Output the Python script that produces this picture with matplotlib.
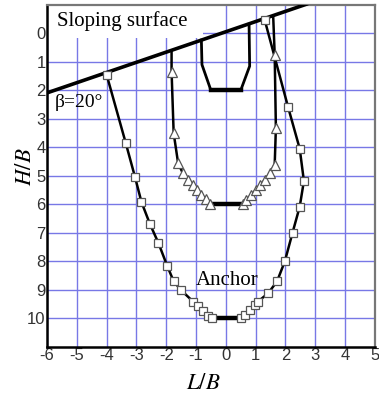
import matplotlib.pyplot as plt
from matplotlib.patches import Rectangle

plt.rcParams['mathtext.fontset'] = 'stix'
plt.rcParams['axes.unicode_minus'] = False

# failure surface traced with squares (deep anchor, H/B = 10)
sq_x = [-4.0, -3.36, -3.05, -2.83, -2.55, -2.26, -1.97, -1.75, -1.49, -1.10, -0.93, -0.76, -0.60, -0.48,
        0.50, 0.64, 0.80, 0.97, 1.08, 1.42, 1.72, 1.98, 2.24, 2.48, 2.62, 2.48, 2.09, 1.31]
sq_y = [1.45, 3.84, 5.03, 5.92, 6.68, 7.36, 8.15, 8.70, 9.02, 9.41, 9.58, 9.75, 9.90, 10.0,
        10.0, 9.88, 9.70, 9.53, 9.41, 9.12, 8.70, 8.00, 6.99, 6.08, 5.18, 4.05, 2.59, -0.45]

# failure surface traced with triangles (H/B = 6), first and last point sit on the slope
tr_x = [-1.82, -1.82, -1.75, -1.60, -1.44, -1.26, -1.10, -0.97, -0.82, -0.68, -0.54,
        0.56, 0.69, 0.86, 1.01, 1.16, 1.31, 1.48, 1.64, 1.68, 1.64, 1.59]
tr_y = [0.60, 1.34, 3.50, 4.56, 4.91, 5.14, 5.32, 5.49, 5.67, 5.82, 6.00,
        6.00, 5.84, 5.67, 5.49, 5.32, 5.14, 4.91, 4.61, 3.33, 0.75, -0.59]

# shallow anchor outline (H/B = 2)
ft_x = [-0.82, -0.80, -0.50, 0.50, 0.80, 0.78]
ft_y = [0.24, 1.10, 2.00, 2.00, 1.15, -0.32]

# anchor plates
plates = [(-0.5, 0.5, 2.0), (-0.5, 0.5, 6.0), (-0.5, 0.5, 10.0)]

slope_x = [-6.0, 2.7]
slope_y = [2.09, -1.02]

fig = plt.figure(figsize=(3.79, 4.01), dpi=100)
ax = fig.add_axes([0.124, 0.135, 0.865, 0.853])

ax.set_xlim(-6, 5)
ax.set_ylim(11, -1)
ax.set_xticks(range(-6, 6))
ax.set_yticks(range(0, 11))
ax.set_axisbelow(True)
ax.grid(True, color='#7878e6', lw=1.0)

ax.add_patch(Rectangle((-6, -1), 5.23, 1.15, facecolor='white', edgecolor='none', zorder=1.5))

ax.plot(slope_x, slope_y, color='black', lw=2.6, zorder=3)
ax.plot(ft_x, ft_y, color='black', lw=2.0, zorder=3)
for x0, x1, yy in plates:
    ax.plot([x0, x1], [yy, yy], color='black', lw=3.2, zorder=3)

ax.plot(sq_x, sq_y, color='black', lw=1.8, marker='s', markersize=6,
        markerfacecolor='white', markeredgecolor='#555555', markeredgewidth=0.9, zorder=4)
ax.plot(tr_x, tr_y, color='black', lw=1.8, marker='^', markersize=7.5,
        markerfacecolor='white', markeredgecolor='#555555', markeredgewidth=0.9,
        markevery=list(range(1, len(tr_x) - 1)), zorder=4)

serif = ['Liberation Serif', 'DejaVu Serif']
ax.text(-5.67, -0.42, 'Sloping surface', fontsize=15, family=serif, va='center', ha='left', zorder=5)
ax.text(-5.75, 2.44, 'β=20°', fontsize=14, family=serif, va='center', ha='left', zorder=5)
ax.text(0.05, 8.68, 'Anchor', fontsize=15, family=serif, va='center', ha='center', zorder=5)

# axis titles
fig.text(0.536, 0.045, '$L/B$', fontsize=16.5, ha='center', va='center')
fig.text(0.064, 0.583, '$H/B$', fontsize=16.5, ha='center', va='center', rotation=90)

ax.tick_params(length=0, labelsize=12, labelcolor='#333333', pad=1)
for lab in ax.get_xticklabels() + ax.get_yticklabels():
    lab.set_family(['Liberation Sans', 'DejaVu Sans'])

ax.spines['left'].set_linewidth(1.8)
ax.spines['bottom'].set_linewidth(1.8)
ax.spines['top'].set_color('#777777')
ax.spines['right'].set_color('#777777')
ax.spines['top'].set_linewidth(1.6)
ax.spines['right'].set_linewidth(1.6)

fig.savefig('out.png', dpi=100)
